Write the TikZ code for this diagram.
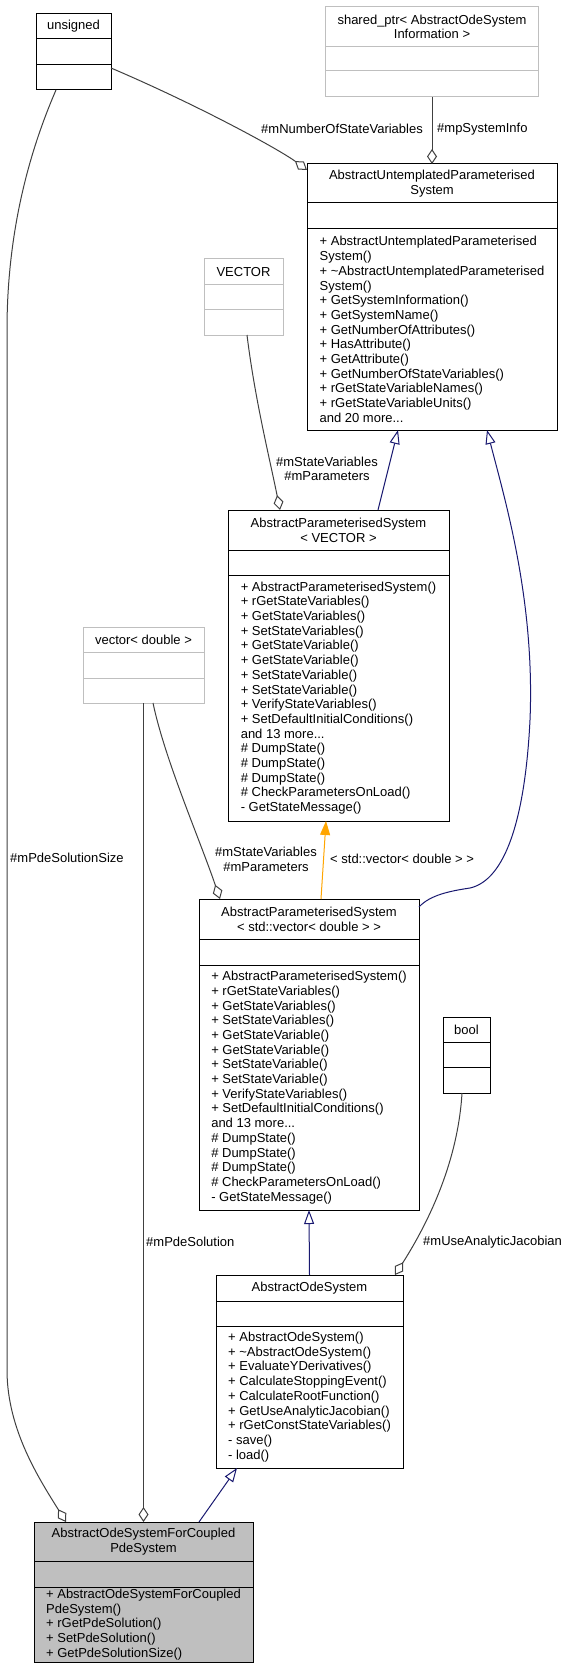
\documentclass[tikz,border=0pt]{standalone}
\usepackage{fontspec}
\setmainfont{Liberation Sans}
\definecolor{edgegray}{RGB}{64, 64, 64}
\definecolor{inhnavy}{RGB}{25, 25, 112}
\definecolor{tmplorange}{RGB}{255, 165, 0}
\definecolor{undocgray}{RGB}{191, 191, 191}
\usetikzlibrary{arrows.meta, positioning}

\tikzset{
  cls/.style={draw=black, line width=1pt, inner sep=0pt, outer sep=0pt, font=\fontsize{13}{14.7}\selectfont},
  undoc/.style={cls, draw=undocgray},
  clstitle/.style={align=center, anchor=north west},
  clsmeth/.style={align=left},
  usage/.style={draw=edgegray, line width=1pt, -{Diamond[open, length=15pt, width=10pt]}},
  inherit/.style={draw=inhnavy, line width=1pt, -{Triangle[open, length=14pt, width=10pt]}},
  tmpl/.style={draw=tmplorange, line width=1pt, -{Triangle[length=14pt, width=10pt]}},
  elabel/.style={font=\fontsize{13}{14.7}\selectfont, inner sep=0pt},
}

\begin{document}
\begin{tikzpicture}[x=1pt, y=-1pt]
  \useasboundingbox (0,0) rectangle (569,1677);

  % unsigned
  \node[cls, clstitle, minimum width=75pt, minimum height=25pt] (unsigned) at (36,14) {unsigned};
  \node[cls, minimum width=75pt, minimum height=26pt, below=0pt of unsigned] (unsigned-a) {};
  \node[cls, minimum width=75pt, minimum height=25pt, below=0pt of unsigned-a] (unsigned-m) {};

  % shared_ptr
  \node[undoc, clstitle, minimum width=213pt, minimum height=40pt] (shared) at (325.5,7) {shared\_ptr< AbstractOdeSystem\\Information >};
  \node[undoc, minimum width=213pt, minimum height=24pt, below=0pt of shared] (shared-a) {};
  \node[undoc, minimum width=213pt, minimum height=26pt, below=0pt of shared-a] (shared-m) {};

  % AbstractUntemplatedParameterisedSystem
  \node[cls, clstitle, minimum width=250pt, minimum height=39pt] (aup) at (307,164) {AbstractUntemplatedParameterised\\System};
  \node[cls, minimum width=250pt, minimum height=26pt, below=0pt of aup] (aup-a) {};
  \node[cls, clsmeth, minimum width=250pt, minimum height=201pt, below=0pt of aup-a] (aup-m) {%
    + AbstractUntemplatedParameterised\\
    System()\\
    + \textasciitilde AbstractUntemplatedParameterised\\
    System()\\
    + GetSystemInformation()\\
    + GetSystemName()\\
    + GetNumberOfAttributes()\\
    + HasAttribute()\\
    + GetAttribute()\\
    + GetNumberOfStateVariables()\\
    + rGetStateVariableNames()\\
    + rGetStateVariableUnits()\\
    and 20 more...};

  % VECTOR
  \node[undoc, clstitle, minimum width=79pt, minimum height=26pt] (vector) at (204,259) {VECTOR};
  \node[undoc, minimum width=79pt, minimum height=25pt, below=0pt of vector] (vector-a) {};
  \node[undoc, minimum width=79pt, minimum height=25pt, below=0pt of vector-a] (vector-m) {};

  % AbstractParameterisedSystem< VECTOR >
  \node[cls, clstitle, minimum width=221pt, minimum height=40pt] (apsv) at (228,510) {AbstractParameterisedSystem\\< VECTOR >};
  \node[cls, minimum width=221pt, minimum height=25pt, below=0pt of apsv] (apsv-a) {};
  \node[cls, clsmeth, minimum width=221pt, minimum height=246pt, below=0pt of apsv-a] (apsv-m) {%
    + AbstractParameterisedSystem()\\
    + rGetStateVariables()\\
    + GetStateVariables()\\
    + SetStateVariables()\\
    + GetStateVariable()\\
    + GetStateVariable()\\
    + SetStateVariable()\\
    + SetStateVariable()\\
    + VerifyStateVariables()\\
    + SetDefaultInitialConditions()\\
    and 13 more...\\
    \# DumpState()\\
    \# DumpState()\\
    \# DumpState()\\
    \# CheckParametersOnLoad()\\
    - GetStateMessage()};

  % vector< double >
  \node[undoc, clstitle, minimum width=121pt, minimum height=25pt] (vecd) at (83,627) {vector< double >};
  \node[undoc, minimum width=121pt, minimum height=26pt, below=0pt of vecd] (vecd-a) {};
  \node[undoc, minimum width=121pt, minimum height=25pt, below=0pt of vecd-a] (vecd-m) {};

  % AbstractParameterisedSystem< std::vector< double > >
  \node[cls, clstitle, minimum width=220pt, minimum height=40pt] (apsd) at (199,899) {AbstractParameterisedSystem\\< std::vector< double > >};
  \node[cls, minimum width=220pt, minimum height=26pt, below=0pt of apsd] (apsd-a) {};
  \node[cls, clsmeth, minimum width=220pt, minimum height=245pt, below=0pt of apsd-a] (apsd-m) {%
    + AbstractParameterisedSystem()\\
    + rGetStateVariables()\\
    + GetStateVariables()\\
    + SetStateVariables()\\
    + GetStateVariable()\\
    + GetStateVariable()\\
    + SetStateVariable()\\
    + SetStateVariable()\\
    + VerifyStateVariables()\\
    + SetDefaultInitialConditions()\\
    and 13 more...\\
    \# DumpState()\\
    \# DumpState()\\
    \# DumpState()\\
    \# CheckParametersOnLoad()\\
    - GetStateMessage()};

  % bool
  \node[cls, clstitle, minimum width=47pt, minimum height=25pt] (bool) at (443,1017) {bool};
  \node[cls, minimum width=47pt, minimum height=25pt, below=0pt of bool] (bool-a) {};
  \node[cls, minimum width=47pt, minimum height=26pt, below=0pt of bool-a] (bool-m) {};

  % AbstractOdeSystem
  \node[cls, clstitle, minimum width=187pt, minimum height=26pt] (aos) at (216,1275) {AbstractOdeSystem};
  \node[cls, minimum width=187pt, minimum height=25pt, below=0pt of aos] (aos-a) {};
  \node[cls, clsmeth, minimum width=187pt, minimum height=142pt, below=0pt of aos-a] (aos-m) {%
    + AbstractOdeSystem()\\
    + \textasciitilde AbstractOdeSystem()\\
    + EvaluateYDerivatives()\\
    + CalculateStoppingEvent()\\
    + CalculateRootFunction()\\
    + GetUseAnalyticJacobian()\\
    + rGetConstStateVariables()\\
    - save()\\
    - load()};

  % AbstractOdeSystemForCoupledPdeSystem
  \node[cls, clstitle, fill=undocgray, minimum width=219pt, minimum height=39pt] (pde) at (34,1522) {AbstractOdeSystemForCoupled\\PdeSystem};
  \node[cls, fill=undocgray, minimum width=219pt, minimum height=26pt, below=0pt of pde] (pde-a) {};
  \node[cls, clsmeth, fill=undocgray, minimum width=219pt, minimum height=75pt, below=0pt of pde-a] (pde-m) {%
    + AbstractOdeSystemForCoupled\\
    PdeSystem()\\
    + rGetPdeSolution()\\
    + SetPdeSolution()\\
    + GetPdeSolutionSize()};

  % members
  \draw[usage] ([yshift=-3pt]unsigned-m.north east) .. controls (200,106) and (280,150) .. ([yshift=-6pt]aup.north west);
  \node[elabel, anchor=east] (lbl-nsv) at (423,129) {\#mNumberOfStateVariables};
  \draw[usage] (shared-m.south) -- (aup.north);
  \node[elabel, anchor=west] (lbl-info) at (437,129) {\#mpSystemInfo};
  \draw[usage] ([xshift=3.5pt]vector-m.south) .. controls (255,400) and (270,460) .. ([xshift=52pt]apsv.north west);
  \node[elabel, align=center] (lbl-sv1) at (327,469) {\#mStateVariables\\\#mParameters};
  \draw[usage] ([xshift=9.5pt]vecd-m.south) .. controls (165,760) and (200,840) .. ([xshift=21pt]apsd.north west);
  \node[elabel, align=center] (lbl-sv2) at (266,859) {\#mStateVariables\\\#mParameters};
  \draw[usage] ([xshift=-4.5pt]bool-m.south) .. controls (458,1160) and (430,1220) .. ([xshift=-8pt]aos.north east);
  \node[elabel, anchor=west] (lbl-jac) at (423,1242) {\#mUseAnalyticJacobian};
  \draw[usage] ([xshift=20pt]unsigned-m.south west) .. controls (30,150) and (7,230) .. (7,330)
    -- (7,1370) .. controls (7,1430) and (40,1480) .. ([xshift=32pt]pde.north west);
  \node[elabel, anchor=west] (lbl-size) at (10,858) {\#mPdeSolutionSize};
  \draw[usage] (vecd-m.south) -- (pde.north);
  \node[elabel, anchor=west] (lbl-sol) at (146,1242) {\#mPdeSolution};

  % inheritance
  \draw[inherit] ([xshift=150pt]apsv.north west) -- ([xshift=91pt]aup-m.south west);
  \draw[inherit] ([yshift=-8pt]apsd.north east) .. controls (430,895) and (450,891) .. (470,888)
    .. controls (505,880) and (525,820) .. (530,720)
    .. controls (535,600) and (505,500) .. ([xshift=180pt]aup-m.south west);
  \draw[inherit] (aos.north) -- (apsd-m.south);
  \draw[inherit] ([xshift=165pt]pde.north west) -- ([xshift=21pt]aos-m.south west);

  % template instance
  \draw[tmpl] ([xshift=122pt]apsd.north west) -- ([xshift=98pt]apsv-m.south west);
  \node[elabel, anchor=west] (lbl-tmpl) at (330,859) {< std::vector< double > >};
\end{tikzpicture}
\end{document}
